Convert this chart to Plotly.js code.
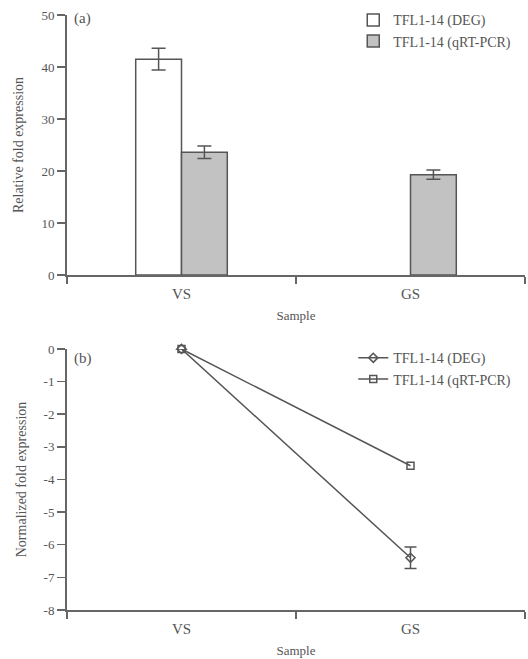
<!DOCTYPE html>
<html>
<head>
<meta charset="utf-8">
<script src="https://cdn.plot.ly/plotly-3.0.1.min.js"></script>
<style>html,body{margin:0;padding:0;background:#fff;}#chart{width:528px;height:659px;}</style>
</head>
<body>
<div id="chart"></div>
<script>
// Categories
var samples = ["VS", "GS"];

// Panel (a): relative fold expression
var degRelative = [41.5, null];
var degRelativeErr = [2.1, null];
var qpcrRelative = [23.6, 19.3];
var qpcrRelativeErr = [1.2, 0.9];
var relTickVals = [0, 10, 20, 30, 40, 50];
var relTickText = ["0", "10", "20", "30", "40", "50"];

// Panel (b): normalized fold expression
var degNormalized = [0, -6.4];
var degNormalizedErr = [0, 0.33];
var qpcrNormalized = [0, -3.58];
var normTickVals = [0, -1, -2, -3, -4, -5, -6, -7, -8];
var normTickText = ["0", "-1", "-2", "-3", "-4", "-5", "-6", "-7", "-8"];

var nameDEG = "TFL1-14 (DEG)";
var nameQPCR = "TFL1-14 (qRT-PCR)";

var ink = "#555555";
var axisCol = "#666666";
var fontFam = "Liberation Serif, Times New Roman, serif";

var traces = [
  {
    type: "bar", x: samples, y: degRelative, name: nameDEG,
    xaxis: "x", yaxis: "y", legend: "legend",
    marker: {color: "#ffffff", line: {color: ink, width: 1.5}},
    error_y: {type: "data", array: degRelativeErr, visible: true, color: ink, thickness: 1.5, width: 7}
  },
  {
    type: "bar", x: samples, y: qpcrRelative, name: nameQPCR,
    xaxis: "x", yaxis: "y", legend: "legend",
    marker: {color: "#c2c2c2", line: {color: ink, width: 1.5}},
    error_y: {type: "data", array: qpcrRelativeErr, visible: true, color: ink, thickness: 1.5, width: 7}
  },
  {
    type: "scatter", mode: "lines+markers", x: samples, y: degNormalized, name: nameDEG,
    xaxis: "x2", yaxis: "y2", legend: "legend2", cliponaxis: false,
    line: {color: ink, width: 1.5},
    marker: {symbol: "diamond-open", size: 7, color: ink, line: {width: 1.5}},
    error_y: {type: "data", array: degNormalizedErr, visible: true, color: ink, thickness: 1.5, width: 6}
  },
  {
    type: "scatter", mode: "lines+markers", x: samples, y: qpcrNormalized, name: nameQPCR,
    xaxis: "x2", yaxis: "y2", legend: "legend2", cliponaxis: false,
    line: {color: ink, width: 1.5},
    marker: {symbol: "square-open", size: 7, color: ink, line: {width: 1.5}}
  }
];

var xCommon = {
  type: "category", range: [-0.5, 1.5], showline: true, linecolor: axisCol, linewidth: 2,
  ticks: "outside", tickson: "boundaries", ticklen: 7, tickwidth: 1.5, tickcolor: axisCol,
  showgrid: false, zeroline: false, fixedrange: true, ticklabelstandoff: 4,
  tickfont: {family: fontFam, size: 15, color: ink},
  title: {text: "Sample", font: {family: fontFam, size: 13, color: ink}, standoff: 10}
};
var yCommon = {
  showline: true, linecolor: axisCol, linewidth: 2, tickmode: "array",
  ticks: "outside", ticklen: 8, tickwidth: 1.5, tickcolor: axisCol,
  showgrid: false, zeroline: false, fixedrange: true,
  tickfont: {family: fontFam, size: 13, color: ink}
};

var layout = {
  width: 528, height: 659,
  margin: {l: 67, r: 3, t: 15, b: 49},
  paper_bgcolor: "#ffffff", plot_bgcolor: "rgba(0,0,0,0)",
  font: {family: fontFam, color: ink},
  showlegend: true,
  barmode: "group", bargap: 0.6, bargroupgap: 0,
  xaxis: Object.assign({}, xCommon, {anchor: "y", domain: [0, 1]}),
  yaxis: Object.assign({}, yCommon, {anchor: "x", domain: [0.563, 1], range: [0, 50],
    tickvals: relTickVals, ticktext: relTickText,
    title: {text: "Relative fold expression", font: {family: fontFam, size: 14, color: ink}, standoff: 14}}),
  xaxis2: Object.assign({}, xCommon, {anchor: "y2", domain: [0, 1]}),
  yaxis2: Object.assign({}, yCommon, {anchor: "x2", domain: [0, 0.4387], range: [-8, 0],
    tickvals: normTickVals, ticktext: normTickText,
    title: {text: "Normalized fold expression", font: {family: fontFam, size: 14, color: ink}, standoff: 14}}),
  legend: {x: 0.625, y: 1.018, xanchor: "left", yanchor: "top", bgcolor: "rgba(0,0,0,0)",
    font: {family: fontFam, size: 14, color: ink}, tracegroupgap: 0, itemwidth: 30},
  legend2: {x: 0.625, y: 0.45, xanchor: "left", yanchor: "top", bgcolor: "rgba(0,0,0,0)",
    font: {family: fontFam, size: 14, color: ink}, tracegroupgap: 0, itemwidth: 30},
  annotations: [
    {text: "(a)", xref: "paper", yref: "paper", x: 0.012, y: 1.012, xanchor: "left", yanchor: "top",
     showarrow: false, font: {family: fontFam, size: 15, color: ink}},
    {text: "(b)", xref: "paper", yref: "paper", x: 0.012, y: 0.44, xanchor: "left", yanchor: "top",
     showarrow: false, font: {family: fontFam, size: 15, color: ink}}
  ]
};

Plotly.newPlot("chart", traces, layout, {displayModeBar: false, staticPlot: true});
</script>
</body>
</html>
